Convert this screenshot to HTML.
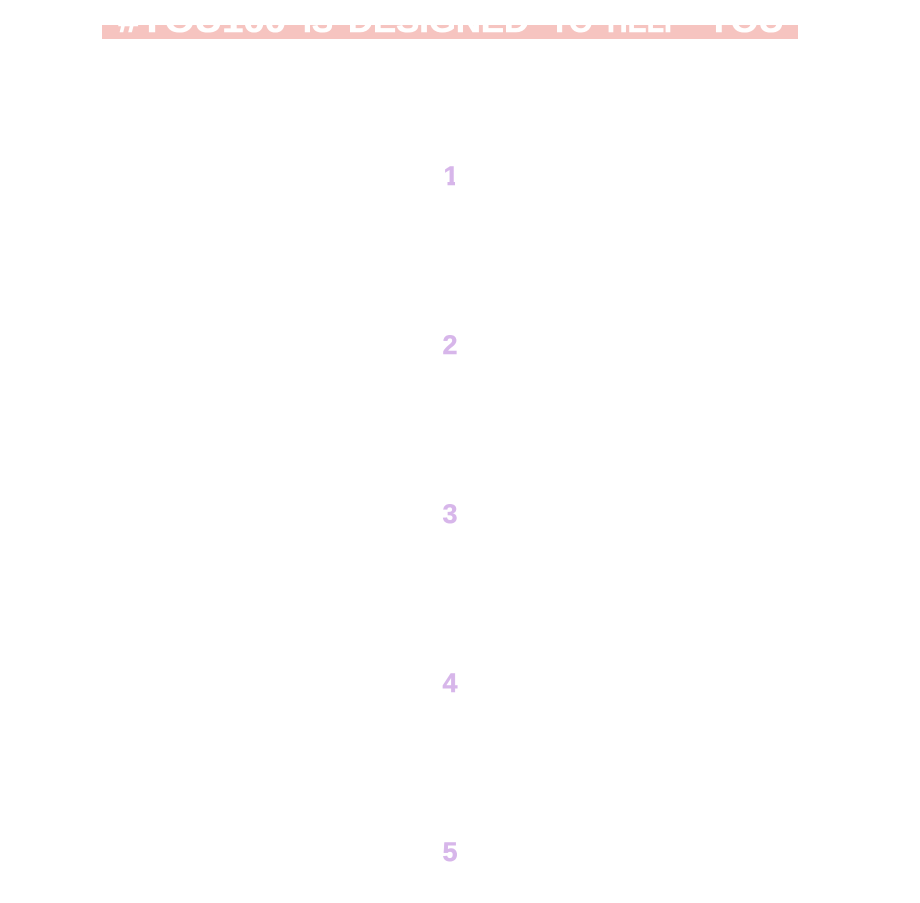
<!DOCTYPE html>
<html>
<head>
<meta charset="utf-8">
<style>
html,body{margin:0;padding:0;background:#fff;width:920px;height:903px;overflow:hidden}
body{position:relative;font-family:"Liberation Sans",sans-serif}
#banner{position:absolute;left:102px;top:25px;width:696px;height:14px;background:#f6c4c0;overflow:hidden}
#banner svg{position:absolute;left:0;top:0;display:block}
#banner text{font-family:"Liberation Sans",sans-serif;font-weight:700;font-size:32px;fill:#fff;stroke:#fff;stroke-width:.6px}
.n{position:absolute;left:400px;width:100px;text-align:center;font-family:"Liberation Sans",sans-serif;font-weight:700;font-size:27px;line-height:30px;color:#d7b6ea;-webkit-text-stroke:.4px #d7b6ea}
</style>
</head>
<body>
<div id="banner"><svg width="696" height="14" viewBox="0 0 696 14">
<text x="16" y="7" textLength="168" lengthAdjust="spacingAndGlyphs">#YOU100</text>
<text x="201" y="7" textLength="30" lengthAdjust="spacingAndGlyphs">IS</text>
<text x="246" y="7" textLength="181" lengthAdjust="spacingAndGlyphs">DESIGNED</text>
<text x="448" y="7" textLength="43" lengthAdjust="spacingAndGlyphs">TO</text>
<text x="505" y="7" textLength="76" lengthAdjust="spacingAndGlyphs">HELP</text>
<text x="605" y="7" textLength="77" lengthAdjust="spacingAndGlyphs">YOU</text>
</svg></div>
<div class="n" style="top:161px;left:401px;clip-path:polygon(40px 0,54px 0,54px 30px,46.5px 30px,46.5px 19px,40px 19px)">1</div>
<div class="n" style="top:330px">2</div>
<div class="n" style="top:499px">3</div>
<div class="n" style="top:668px">4</div>
<div class="n" style="top:837px">5</div>
</body>
</html>
